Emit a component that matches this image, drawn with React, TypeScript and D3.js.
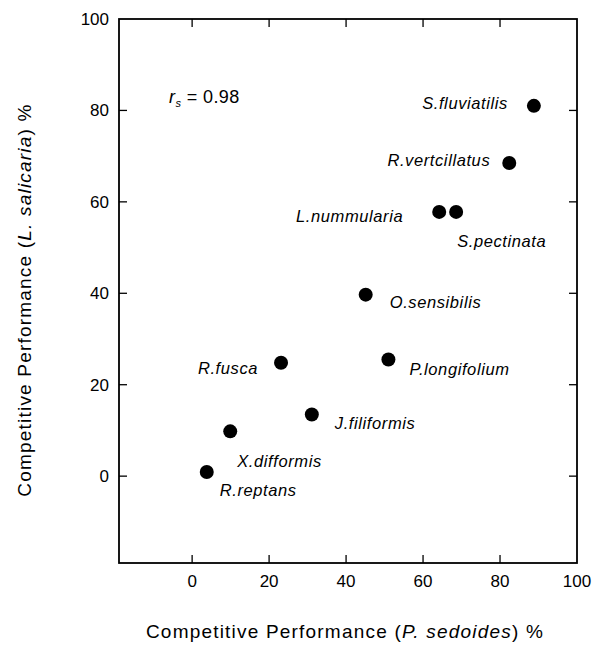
import React from "react";
import * as d3 from "d3";

const species = [
  "S.fluviatilis",
  "R.vertcillatus",
  "L.nummularia",
  "S.pectinata",
  "O.sensibilis",
  "P.longifolium",
  "R.fusca",
  "J.filiformis",
  "X.difformis",
  "R.reptans",
];
const xValues = [88.8, 82.4, 64.2, 68.6, 45.1, 51.0, 23.1, 31.1, 9.9, 3.8];
const yValues = [81.0, 68.5, 57.8, 57.8, 39.7, 25.5, 24.8, 13.5, 9.8, 0.9];
const tickValues = [0, 20, 40, 60, 80, 100];
const rsText = "0.98";

// label placement (layout only): dx, dy from point, anchor
const labelLayout: [number, number, string][] = [
  [-26, -3, "end"],
  [-19, -3, "end"],
  [-36, 4, "end"],
  [1, 29, "start"],
  [24, 8, "start"],
  [21, 10, "start"],
  [-23, 5, "end"],
  [23, 9, "start"],
  [7, 30, "start"],
  [13, 18, "start"],
];

const W = 600;
const H = 672;
const FONT = "'Liberation Sans', Arial, Helvetica, sans-serif";

export default function App() {
  const x = d3.scaleLinear().domain([-19, 100]).range([119, 577]);
  const y = d3.scaleLinear().domain([-19, 100]).range([563, 19]);
  const tick = 8;
  const innerTicks = tickValues.filter((v) => v < 100);

  return (
    <svg
      width={W}
      height={H}
      style={{ position: "absolute", left: 0, top: 0, background: "#fff" }}
      fontFamily={FONT}
    >
      <rect x={0} y={0} width={W} height={H} fill="#fff" />
      {/* frame */}
      <rect
        x={x(-19)}
        y={y(100)}
        width={x(100) - x(-19)}
        height={y(-19) - y(100)}
        fill="none"
        stroke="#000"
        strokeWidth={1.8}
      />
      {/* ticks */}
      {innerTicks.map((v) => (
        <g key={"t" + v} stroke="#000" strokeWidth={1.3}>
          <line x1={x(v)} x2={x(v)} y1={y(-19)} y2={y(-19) - tick} />
          <line x1={x(v)} x2={x(v)} y1={y(100)} y2={y(100) + tick} />
          <line x1={x(-19)} x2={x(-19) + tick} y1={y(v)} y2={y(v)} />
          <line x1={x(100)} x2={x(100) - tick} y1={y(v)} y2={y(v)} />
        </g>
      ))}
      {/* tick labels */}
      {tickValues.map((v) => (
        <text
          key={"xl" + v}
          x={x(v)}
          y={587}
          fontSize={17}
          textAnchor="middle"
          fill="#000"
        >
          {v}
        </text>
      ))}
      {tickValues.map((v) => (
        <text
          key={"yl" + v}
          x={109}
          y={y(v)}
          dy="0.35em"
          fontSize={17}
          textAnchor="end"
          fill="#000"
        >
          {v}
        </text>
      ))}
      {/* points */}
      {species.map((s, i) => (
        <circle key={"p" + s} cx={x(xValues[i])} cy={y(yValues[i])} r={7} fill="#000" />
      ))}
      {/* labels */}
      {species.map((s, i) => {
        const [dx, dy, anchor] = labelLayout[i];
        return (
          <text
            key={"l" + s}
            x={x(xValues[i]) + dx}
            y={y(yValues[i]) + dy}
            dy="0.35em"
            fontSize={16.5}
            fontStyle="italic"
            letterSpacing={0.6}
            textAnchor={anchor as any}
            fill="#000"
          >
            {s}
          </text>
        );
      })}
      {/* r_s */}
      <text x={x(-6)} y={y(83) + 6} fontSize={18} letterSpacing={0.4} fill="#000">
        <tspan fontStyle="italic">r</tspan>
        <tspan fontStyle="italic" fontSize={11} dy={4}>s</tspan>
        <tspan dy={-4}>{" = " + rsText}</tspan>
      </text>
      {/* axis titles */}
      <text
        x={345}
        y={638}
        fontSize={19}
        letterSpacing={1.2}
        textAnchor="middle"
        fill="#000"
      >
        Competitive Performance (<tspan fontStyle="italic">P. sedoides</tspan>) %
      </text>
      <text
        transform="translate(31,300) rotate(-90)"
        fontSize={19}
        letterSpacing={1.2}
        textAnchor="middle"
        fill="#000"
      >
        Competitive Performance (<tspan fontStyle="italic">L. salicaria</tspan>) %
      </text>
    </svg>
  );
}
